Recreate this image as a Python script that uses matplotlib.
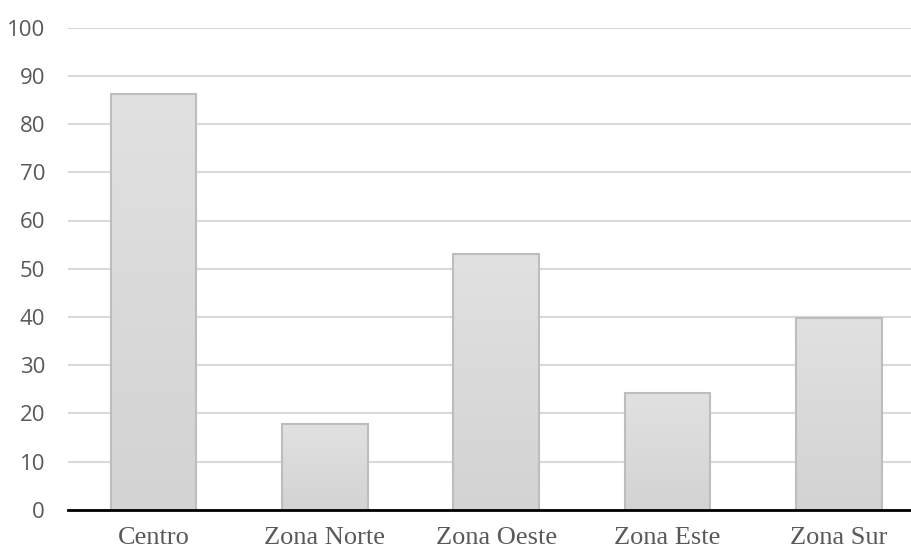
import matplotlib
matplotlib.use("Agg")
import matplotlib.pyplot as plt
import numpy as np

categories = ["Centro", "Zona Norte", "Zona Oeste", "Zona Este", "Zona Sur"]
values = [86.2, 17.7, 53.1, 24.3, 39.7]
y_ticks = [0, 10, 20, 30, 40, 50, 60, 70, 80, 90, 100]

W, H = 912, 551
fig = plt.figure(figsize=(W / 100, H / 100), dpi=100)
ax = fig.add_axes([68 / W, 41.3 / H, (W - 68) / W, 482 / H])

x = np.arange(len(categories))
bars = ax.bar(x, values, width=0.5, color="none", edgecolor="#bdbdbd",
              linewidth=1.5, zorder=3)

# vertical grey gradient inside each bar
grad = np.linspace(0, 1, 256).reshape(-1, 1)
cmap = matplotlib.colors.LinearSegmentedColormap.from_list(
    "g", ["#d3d3d3", "#e1e1e1"])
for b in bars:
    x0, y0 = b.get_x(), b.get_y()
    im = ax.imshow(grad, extent=[x0, x0 + b.get_width(), y0, y0 + b.get_height()],
                   origin="lower", cmap=cmap, aspect="auto", zorder=2)
    im.set_clip_path(b)

ax.set_xlim(-0.5, 4.5 - 12.5 / 171.3)
ax.set_ylim(0, 100)
ax.set_yticks(y_ticks)
ax.set_xticks(x)
ax.set_xticklabels(categories, fontfamily="Liberation Serif", fontsize=19,
                   color="#595959")
for lab in ax.get_yticklabels():
    lab.set_fontfamily("Open Sans")
    lab.set_fontsize(16)
    lab.set_color("#595959")

ax.tick_params(axis="y", length=0, pad=16.5)
ax.tick_params(axis="x", length=0, pad=12.5)
ax.grid(axis="y", color="#d9d9d9", linewidth=1.5, zorder=0)
ax.set_axisbelow(True)
for s in ["top", "right", "left"]:
    ax.spines[s].set_visible(False)
ax.spines["bottom"].set_color("black")
ax.spines["bottom"].set_linewidth(2)
ax.spines["bottom"].set_zorder(4)

fig.savefig("out.png", dpi=100)
